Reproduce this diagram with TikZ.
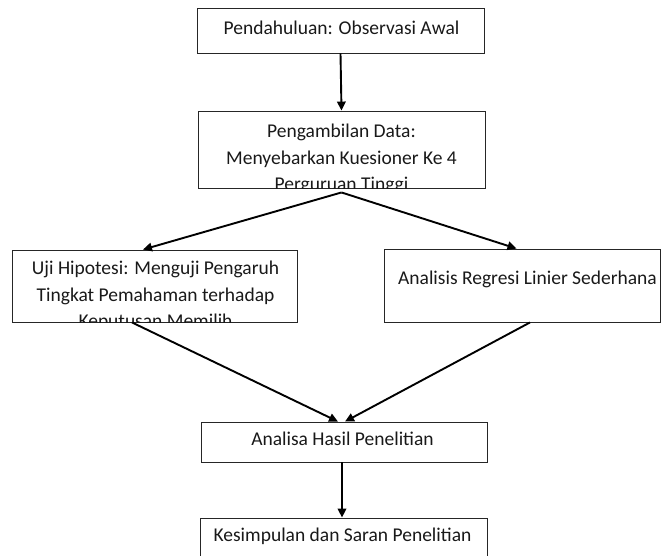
\documentclass[tikz,border=0pt]{standalone}
\usepackage{fontspec}
\setmainfont{Carlito}
\usetikzlibrary{arrows.meta}
\tikzset{
  stepbox/.style={draw=black!85, line width=0.9pt, inner sep=0pt},
  boxtext/.style={anchor=base, align=center, inner sep=0pt, text=black!90,
                  font=\fontsize{19.5}{26.5}\selectfont},
  flow/.style={-{Triangle[length=9pt,width=8.5pt]}, line width=1.9pt, black}
}

\begin{document}
\begin{tikzpicture}[x=1pt,y=-1pt]
\useasboundingbox (0,0) rectangle (662,555);
\clip (0,0) rectangle (662,555);

% Boxes
\node[stepbox, minimum width=287pt, minimum height=45pt] (pend) at (340.5,30.5) {};
\node[stepbox, minimum width=287pt, minimum height=77pt] (ambil) at (341.5,149.5) {};
\node[stepbox, minimum width=285pt, minimum height=72pt] (uji) at (154.5,286) {};
\node[stepbox, minimum width=276pt, minimum height=73pt] (regresi) at (522,285.5) {};
\node[stepbox, minimum width=286pt, minimum height=40pt] (analisa) at (344,442) {};
\node[stepbox, minimum width=287pt, minimum height=40pt] (simpul) at (343.5,538) {};

% Texts (clipped by their boxes, base = last line)
\node[boxtext] (pendtxt) at ([xshift=1pt,yshift=-26.5pt]pend.north) {Pendahuluan: Observasi Awal};
\begin{scope}
  \clip (ambil.south west) rectangle (ambil.north east);
  \node[boxtext] (ambiltxt) at ([yshift=-80pt]ambil.north)
    {Pengambilan Data:\\Menyebarkan Kuesioner Ke 4\\Perguruan Tinggi};
\end{scope}
\begin{scope}
  \clip (uji.south west) rectangle (uji.north east);
  \node[boxtext] (ujitxt) at ([xshift=1pt,yshift=-78pt]uji.north)
    {Uji Hipotesi: Menguji Pengaruh\\Tingkat Pemahaman terhadap\\Keputusan Memilih};
\end{scope}
\node[boxtext] (regresitxt) at ([xshift=5.5pt,yshift=-35.5pt]regresi.north) {Analisis Regresi Linier Sederhana};
\node[boxtext] (analisatxt) at ([xshift=-1.5pt,yshift=-23.5pt]analisa.north) {Analisa Hasil Penelitian};
\node[boxtext] (simpultxt) at ([xshift=-1pt,yshift=-24pt]simpul.north) {Kesimpulan dan Saran Penelitian};

% Arrows
\draw[flow] (pend.south) -- (ambil.north);
\draw[flow] ([yshift=-4pt]ambil.south) -- ([xshift=-11.5pt]uji.north);
\draw[flow] ([yshift=-4pt]ambil.south) -- ([xshift=-5.5pt]regresi.north);
\draw[flow] ([xshift=-22.5pt]uji.south) -- ([xshift=-6pt]analisa.north);
\draw[flow] ([xshift=8pt]regresi.south) -- ([xshift=1pt]analisa.north);
\draw[flow] ([xshift=-2pt]analisa.south) -- ([xshift=-1.5pt]simpul.north);
\end{tikzpicture}
\end{document}
